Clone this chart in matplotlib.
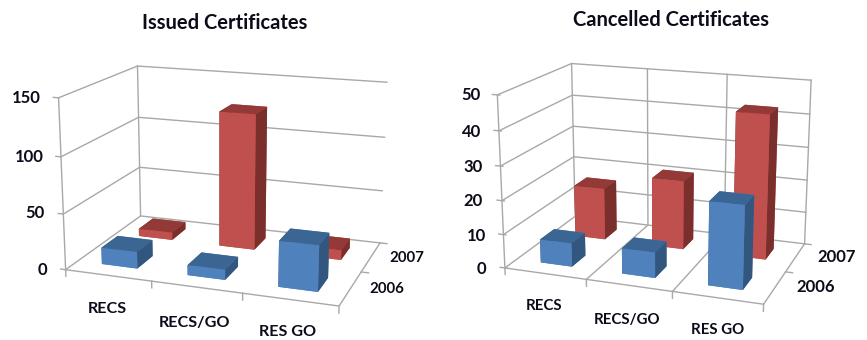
import numpy as np
import matplotlib
matplotlib.use('Agg')
import matplotlib.pyplot as plt

plt.rcParams['font.family'] = ['Lato', 'DejaVu Sans']

WIDTH, HEIGHT = 867, 340

categories = ['RECS', 'RECS/GO', 'RES GO']
years = ['2006', '2007']

# certificates per scheme, one list per year
issued_2006 = [15, 9, 40]
issued_2007 = [7, 125, 9]
cancelled_2006 = [7, 7.5, 24]
cancelled_2007 = [16, 21, 43]

issued_ticks = [0, 50, 100, 150]
cancelled_ticks = [0, 10, 20, 30, 40, 50]

# front, top and side shades of each year's bars
BLUE = ('#4f81bd', '#3b6593', '#33567f')
RED = ('#c0504d', '#933a38', '#7a2f2d')
GRID = '#a8a8a8'
TEXT = '#0b0b1a'


def face_colors(shade):
    front, top, side = shade
    # bar3d face order: bottom, top, front, back, left, right
    return [front, top, front, front, side, side]


def px_text(x, y, s, size, ha='center'):
    plt.figtext(x / WIDTH, 1 - y / HEIGHT, s, fontsize=size, fontweight='bold',
                color=TEXT, ha=ha, va='center')


def draw_chart(view, fit, zticks, vals_2006, vals_2007, bar_w, bar_d, grid_x):
    elev, azim, roll, focal, ay, az = view
    scale, tx, ty = fit
    zmax = zticks[-1]

    ax = plt.gcf().add_subplot(projection='3d', proj_type='persp', focal_length=focal)
    ax.view_init(elev, azim, roll)
    ax.set_box_aspect((1, ay, az))
    ax.computed_zorder = False
    ax.set_axis_off()
    ax.patch.set_alpha(0)

    def line(xs, ys, zs):
        ax.plot(xs, ys, zs, color=GRID, lw=1, zorder=1, clip_on=False)

    # walls and floor; the second chart's value ticks cross the axis
    tick_in = 0.03 if grid_x else 0
    for z in zticks:
        line([0, 0, 3], [0, 2, 2], [z, z, z])
        line([-0.06, tick_in], [0, 0], [z, z])
    line([0, 3, 3], [0, 0, 2], [0, 0, 0])
    line([0, 0], [0, 0], [0, zmax])
    line([0, 0], [2, 2], [0, zmax])
    if grid_x:
        line([3, 3], [2, 2], [0, zmax])
        for x in range(1, 3):
            line([x, x, x], [0, 2, 2], [0, 0, zmax])
    for x in range(0, 4):
        line([x, x], [0, 0], [0, -0.04 * zmax])
    for y in range(1, 3):
        line([3, 3.08], [y, y], [0, 0])

    # far row first, left to right, so nearer bars cover it
    order = 2
    for y, vals, shade in [(1.5, vals_2007, RED), (0.5, vals_2006, BLUE)]:
        for i, v in enumerate(vals):
            ax.bar3d(i + 0.5 - bar_w / 2, y - bar_d / 2, 0, bar_w, bar_d, v,
                     color=face_colors(shade), shade=False, edgecolor='none',
                     linewidth=0, zorder=order)
            order += 1

    ax.set_xlim(0, 3)
    ax.set_ylim(0, 2)
    ax.set_zlim(0, zmax)

    # pin the projected view to its place in the figure
    ax.apply_aspect()
    (xl, yl), (xr, yr) = ax.transData.inverted().transform(
        ax.transAxes.transform([(0, 0), (1, 1)]))
    w = scale * (xr - xl)
    h = scale * (yr - yl)
    left = tx + scale * xl
    bottom = HEIGHT - ty + scale * yl
    ax.set_position([left / WIDTH, bottom / HEIGHT, w / WIDTH, h / HEIGHT])
    return ax


fig = plt.figure(figsize=(WIDTH / 100, HEIGHT / 100), dpi=100)

draw_chart((15.687, -70.792, -0.137, 0.5527, 0.6634, 0.6251),
           (1958.87, 228.646, 174.551), issued_ticks,
           issued_2006, issued_2007, 0.42, 0.42, False)
draw_chart((16.465, -70.015, 0.018, 0.5734, 0.6412, 0.6634),
           (1887.0, 659.175, 173.338), cancelled_ticks,
           cancelled_2006, cancelled_2007, 0.39, 0.39, True)

px_text(224.7, 22.7, 'Issued Certificates', 14.5)
px_text(671.3, 20, 'Cancelled Certificates', 14.5)

for t, (x, y) in zip(issued_ticks, [(47.3, 270), (45, 213.3), (43.3, 157.3), (40.7, 97.7)]):
    px_text(x, y, str(t), 12, ha='right')
for t, (x, y) in zip(cancelled_ticks, [(486.3, 269.3), (485.7, 236), (482.7, 201),
                                       (482.3, 166.7), (481.3, 132), (481, 95)]):
    px_text(x, y, str(t), 12, ha='right')

for c, (x, y) in zip(categories, [(107, 309), (194, 323), (288, 331.5)]):
    px_text(x, y, c, 11.6)
for c, (x, y) in zip(categories, [(544, 306), (627, 320), (718, 330)]):
    px_text(x, y, c, 10.8)

for yr, (x, y) in zip(years, [(387, 289), (407, 258)]):
    px_text(x, y, yr, 10.8)
for yr, (x, y) in zip(years, [(815.3, 287.3), (836.3, 257.3)]):
    px_text(x, y, yr, 12)

fig.savefig('out.png', dpi=100)
